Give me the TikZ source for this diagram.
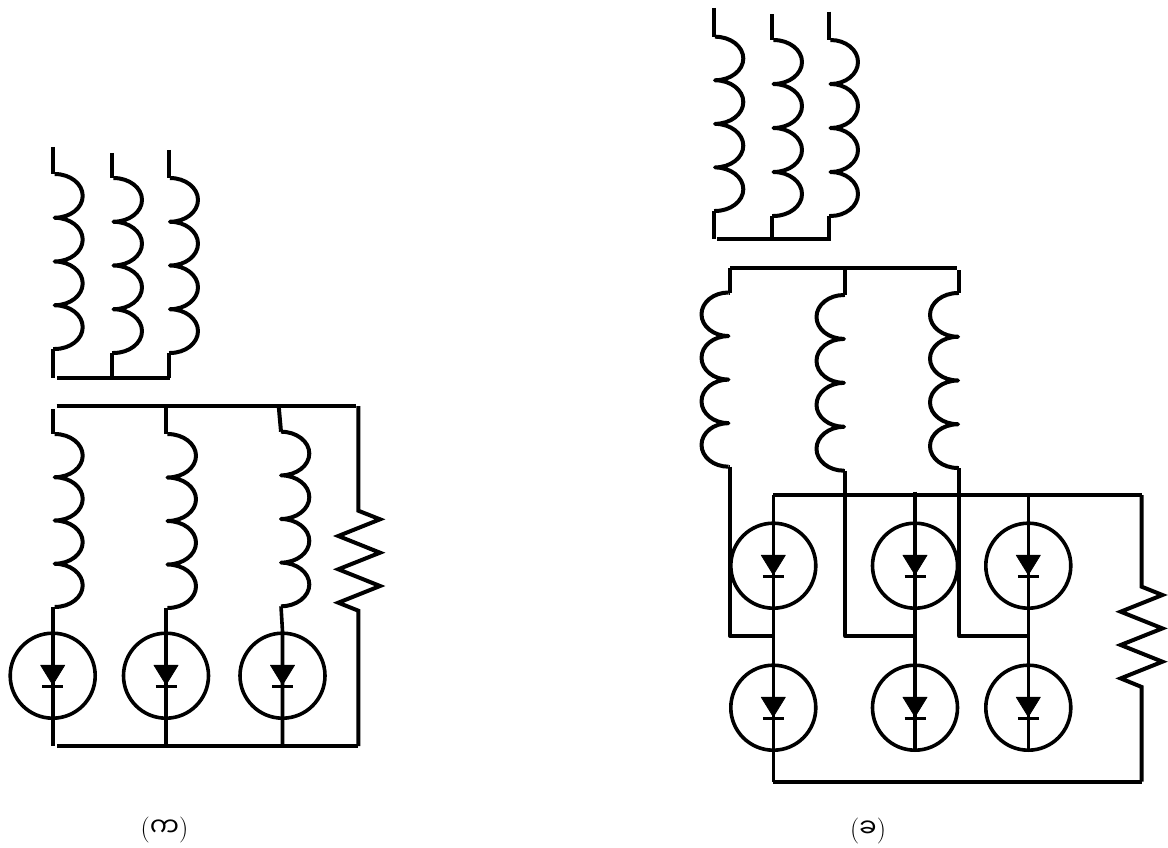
\documentclass[tikz,border=0pt]{standalone}
\usepackage{fontspec}
\newfontfamily\myanfont[Script=Myanmar]{Noto Sans Myanmar UI}
\begin{document}
\begin{tikzpicture}[x=1pt,y=-1pt]
            \tikzstyle{wire}=[line width=4pt,line join=round]
            \tikzstyle{thinwire}=[line width=3.6pt,line join=round]
            \tikzstyle{thyr}=[circle,draw,line width=3.6pt,minimum size=85pt,inner sep=0pt,fill=none]
            \tikzstyle{lbl}=[inner sep=0pt,font=\fontsize{26pt}{28pt}\selectfont]

            \useasboundingbox (0,0) rectangle (1168,848);

            %right_bulging_coils
            \foreach \n/\x/\ya/\yb/\rx in {p1/54.7/174/349/28, p2/113.5/178/353/28.5, p3/170/178/353/28, q1/54.7/434/607/28, q2/167.5/434/608/28.5, q3/281/431.7/606.3/28.3, s1/715/36.7/211/28.3, s2/773.5/40/216/28.5, s3/830.5/40/216/27.5}
            {
                \draw[wire] (\x,\ya) coordinate (\n a)
                    arc[start angle=-90,end angle=90,x radius=\rx,y radius={(\yb-\ya)/8}]
                    arc[start angle=-90,end angle=90,x radius=\rx,y radius={(\yb-\ya)/8}]
                    arc[start angle=-90,end angle=90,x radius=\rx,y radius={(\yb-\ya)/8}]
                    arc[start angle=-90,end angle=90,x radius=\rx,y radius={(\yb-\ya)/8}]
                    coordinate (\n b);
            }

            %left_bulging_coils
            \foreach \n/\x/\ya/\yb/\rx in {t1/728.5/292.5/466.7/27, t2/844/295/470.7/27.5, t3/958/293/468/28}
            {
                \draw[wire] (\x,\ya) coordinate (\n a)
                    arc[start angle=-90,end angle=-270,x radius=\rx,y radius={(\yb-\ya)/8}]
                    arc[start angle=-90,end angle=-270,x radius=\rx,y radius={(\yb-\ya)/8}]
                    arc[start angle=-90,end angle=-270,x radius=\rx,y radius={(\yb-\ya)/8}]
                    arc[start angle=-90,end angle=-270,x radius=\rx,y radius={(\yb-\ya)/8}]
                    coordinate (\n b);
            }

            %thyristors
            \foreach \n/\x/\y in {d1/52.7/675.7, d2/166/675.7, d3/282.5/675.7, e1/773.3/565.7, e2/915/565.7, e3/1028.3/565.7, f1/773.3/707.7, f2/915/707.7, f3/1028.3/707.7}
            {
                \node[thyr] (\n) at (\x,\y) {};
                \draw[fill=black,line width=.8pt,line join=round] (\x-12,\y-10.5)--(\x+12,\y-10.5)--(\x,\y+9)--cycle;
                \draw[line width=3.4pt] (\x-10.5,\y+10.7)--(\x+10.5,\y+10.7);
            }

            %left_top
            \coordinate (p1t) at (53,147);
            \coordinate (p2t) at (112,153);
            \coordinate (p3t) at (168.5,150);
            \coordinate (pbl) at (57,377.7);
            \coordinate (pbr) at (169.5,377.7);
            \foreach \n in {p1,p2,p3}
            {
                \draw[wire] (\n t)--(\n t |- \n a);
                \draw[wire] (\n t |- \n b)--(\n t |- pbl);
                \draw[wire] (\n t |- \n b)--(\n b);
            }
            \draw[wire] (pbl)--(pbr);

            %left_rail
            \coordinate (qrl) at (56.7,406);
            \coordinate (qrr) at (356,406);
            \coordinate (q1t) at (53.3,409);
            \coordinate (q2t) at (166,406);
            \coordinate (q3t) at (278.7,406);
            \draw[wire] (qrl)--(qrr);
            \draw[wire] (q1t)--(q1t |- q1a);
            \draw[wire] (q2t)--(q2t |- q2a);
            \draw[wire] (q3t)--(q3a);

            %left_bottom
            \coordinate (qbl) at (57,746);
            \coordinate (rs) at (358.3,406);
            \coordinate (re) at (358.3,746);
            \draw[thinwire] (q1b -| d1)--(d1 |- re);
            \draw[thinwire] (q2b -| d2)--(d2 |- re);
            \draw[thinwire] (q3b)--(d3.north)--(d3 |- re);
            \draw[wire] (qbl)--(re);

            %left_resistor
            \draw[wire,line join=miter] (rs)--(358.3,510.7)--++(21.7,8.6)--++(-41.7,16.7)--++(41.7,16.7)--++(-41.7,16.6)--++(41.7,16.7)--++(-41.7,16.7)--++(20,8)--(re);

            %right_top
            \coordinate (s1t) at (713.7,8);
            \coordinate (s2t) at (772.3,14.3);
            \coordinate (s3t) at (829.3,11.7);
            \coordinate (sbl) at (717,239.3);
            \coordinate (sbr) at (830.5,239.3);
            \foreach \n in {s1,s2,s3}
            {
                \draw[wire] (\n t)--(\n t |- \n a);
                \draw[wire] (\n t |- \n b)--(\n t |- sbl);
                \draw[wire] (\n t |- \n b)--(\n b);
            }
            \draw[wire] (sbl)--(sbr);

            %right_rail
            \coordinate (t1t) at (730,267.7);
            \coordinate (t2t) at (845.3,267.7);
            \coordinate (t3t) at (959.3,270);
            \coordinate (trr) at (957,267.7);
            \draw[wire] (t1t)--(trr);
            \coordinate (ts) at (773.3,495);
            \coordinate (tj) at (0,636);
            \foreach \n/\d in {t1/e1,t2/e2,t3/e3}
            {
                \draw[wire] (\n t)--(\n t |- \n a);
                \draw[wire] (\n t |- \n a)--(\n a);
                \draw[wire] (\n t |- \n b)--(\n b);
                \draw[wire] (\n t |- \n b)--(\n t |- tj)--(\d |- tj);
            }

            %right_bottom
            \coordinate (us) at (1141.7,495);
            \coordinate (ue) at (1141.7,781.7);
            \coordinate (e2t) at (915,491.7);
            \draw[wire] (ts)--(us);
            \draw[thinwire] (ts)--(f1 |- ue);
            \draw[thinwire] (e2t)--(f2.south);
            \draw[thinwire] (e3 |- ts)--(f3.south);
            \draw[wire] (f1 |- ue)--(ue);

            %right_resistor
            \draw[wire,line join=miter] (us)--(1141.7,586.7)--++(20.7,8.3)--++(-41.7,16.7)--++(41.7,16.7)--++(-41.7,16.6)--++(41.7,16.7)--++(-41.7,16.7)--++(21,8.6)--(ue);

            \node[lbl] (lbla) at (164.5,830) {({\myanfont က})};
            \node[lbl] (lblb) at (868,831) {({\myanfont ခ})};

       \end{tikzpicture}
\end{document}
